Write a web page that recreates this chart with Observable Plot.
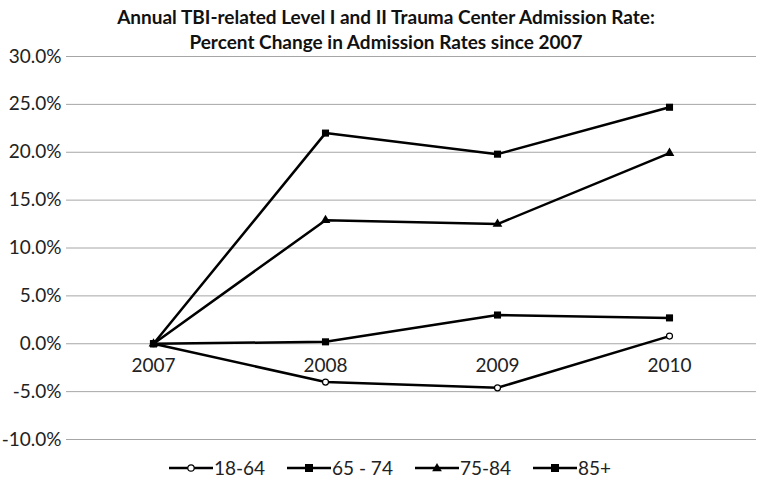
<!DOCTYPE html>
<html><head><meta charset="utf-8">
<script src="https://cdn.jsdelivr.net/npm/d3@7"></script>
<script src="https://cdn.jsdelivr.net/npm/@observablehq/plot@0.6"></script>
<style>
body{margin:0;background:#fff;font-family:Lato,"Open Sans",sans-serif;color:#222;}
#wrap{position:relative;width:760px;height:480px;overflow:hidden;}
#chart{position:absolute;top:0;left:0;}
#title{position:absolute;top:4px;left:16px;width:740px;text-align:center;font-weight:bold;font-size:19px;line-height:25px;color:#111;}
#legend{position:absolute;top:455px;left:20px;width:740px;display:flex;justify-content:center;gap:22px;font-size:19px;line-height:26px;}
#legend .item{display:flex;align-items:center;gap:1px;}
</style></head><body>
<div id="wrap">
  <div id="chart"></div>
  <div id="title">Annual TBI-related Level I and II Trauma Center Admission Rate:<br>Percent Change in Admission Rates since 2007</div>
  <div id="legend"></div>
</div>
<script>
const years = ["2007", "2008", "2009", "2010"];
const seriesNames = ["18-64", "65 - 74", "75-84", "85+"];
const values1864 = [0, -4.0, -4.6, 0.8];
const values6574 = [0, 0.2, 3.0, 2.7];
const values7584 = [0, 12.9, 12.5, 19.9];
const values85 = [0, 22.0, 19.8, 24.7];
const yTicks = [-10, -5, 0, 5, 10, 15, 20, 25, 30];
const seriesSymbols = ["circle", "square", "triangle", "square"];

const allValues = [values1864, values6574, values7584, values85];
const data = [];
seriesNames.forEach((s, i) => years.forEach((yr, j) => data.push({series: s, year: yr, value: allValues[i][j], symbol: seriesSymbols[i]})));

const fmt = d => d.toFixed(1) + "%";

const chart = Plot.plot({
  width: 760,
  height: 480,
  marginTop: 56,
  marginBottom: 41,
  marginLeft: 66,
  marginRight: 4,
  style: {fontFamily: "Lato, 'Open Sans', sans-serif", fontSize: "19px", color: "#222", background: "white", overflow: "visible"},
  x: {type: "point", domain: years, padding: 0.5, axis: null},
  y: {domain: [-10, 30], ticks: yTicks, tickFormat: fmt, tickSize: 0, tickPadding: 5, label: null},
  marks: [
    Plot.ruleY(yTicks, {stroke: "#a6a6a6", strokeWidth: 1}),
    Plot.text(years, {x: d => d, y: () => 0, dy: 22, text: d => d, fill: "#222"}),
    Plot.line(data, {x: "year", y: "value", z: "series", stroke: "black", strokeWidth: 2.5}),
    Plot.dot(data.filter(d => d.symbol === "circle"), {x: "year", y: "value", symbol: "circle", r: 3, fill: "white", stroke: "black", strokeWidth: 1.2}),
    Plot.dot(data.filter(d => d.symbol === "square"), {x: "year", y: "value", symbol: "square", r: 4, fill: "black", stroke: "none"}),
    Plot.dot(data.filter(d => d.symbol === "triangle"), {x: "year", y: "value", symbol: "triangle", r: 3.6, fill: "black", stroke: "none"})
  ]
});
document.getElementById("chart").appendChild(chart);

const legend = document.getElementById("legend");
seriesNames.forEach((s, i) => {
  const item = document.createElement("div");
  item.className = "item";
  const sym = seriesSymbols[i];
  let marker;
  if (sym === "circle") marker = '<circle cx="22" cy="8" r="3.2" fill="white" stroke="black" stroke-width="1.2"/>';
  else if (sym === "square") marker = '<rect x="18" y="4" width="8" height="8" fill="black"/>';
  else marker = '<path d="' + d3.symbol(d3.symbolTriangle, 3.6 * 3.6 * Math.PI)() + '" transform="translate(22,8.5)" fill="black"/>';
  item.innerHTML = '<svg width="44" height="16"><line x1="0" x2="44" y1="8" y2="8" stroke="black" stroke-width="2.5"/>' + marker + '</svg><span>' + s + '</span>';
  legend.appendChild(item);
});
</script>
</body></html>
